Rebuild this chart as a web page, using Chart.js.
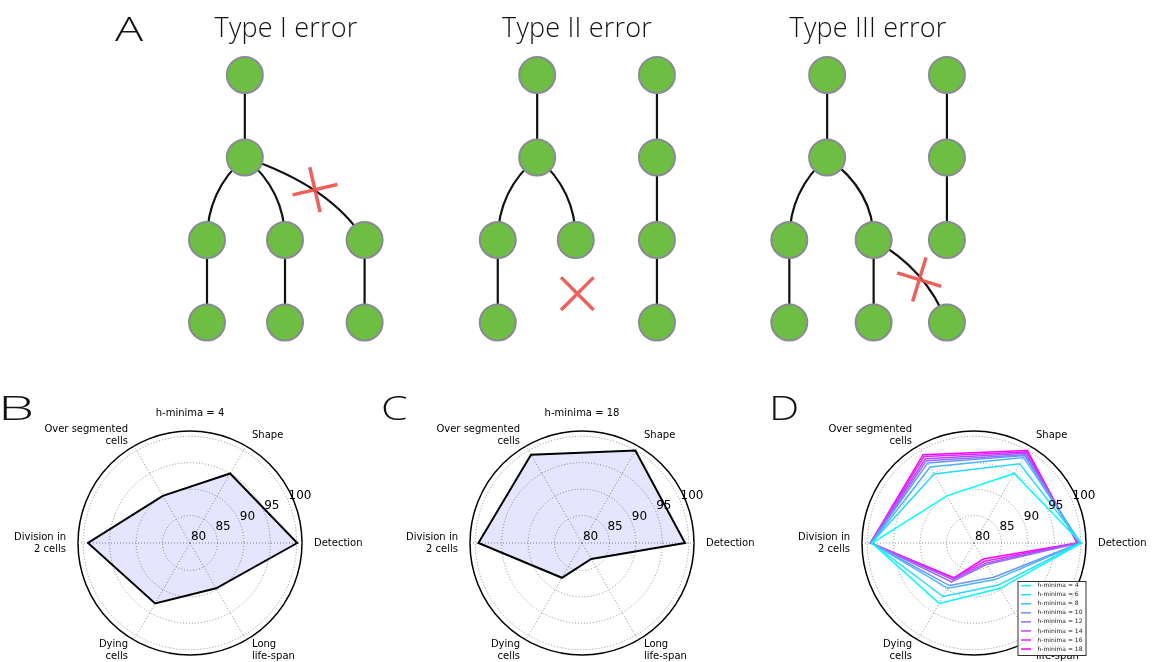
<!DOCTYPE html>
<html>
<head>
<meta charset="utf-8">
<script src="https://cdn.jsdelivr.net/npm/chart.js@4.4.1/dist/chart.umd.min.js"></script>
<style>
  html, body { margin: 0; padding: 0; background: #fff; }
  #wrap { position: relative; width: 1154px; height: 662px; overflow: hidden; }
  canvas { position: absolute; }
  .big { position: absolute; font-family: "Open Sans", Roboto, sans-serif; font-weight: 300; color: #111; line-height: 1; white-space: nowrap; }
  .ttl { transform: translateX(-50%); font-size: 27px; letter-spacing: 0.2px; }
  .let { font-size: 33px; transform-origin: 0 0; }
</style>
</head>
<body>
<div id="wrap">
  <canvas id="trees" width="1154" height="360" style="left:0;top:0"></canvas>
  <canvas id="radarB" width="385" height="272" style="left:0;top:390px"></canvas>
  <canvas id="radarC" width="385" height="272" style="left:385px;top:390px"></canvas>
  <canvas id="radarD" width="384" height="272" style="left:770px;top:390px"></canvas>
  <div class="big let" style="left:115px;top:12px;transform:scaleX(1.42)">A</div>
  <div class="big ttl" style="left:286px;top:13px">Type I error</div>
  <div class="big ttl" style="left:577px;top:13px">Type II error</div>
  <div class="big ttl" style="left:868px;top:13px">Type III error</div>
  <div class="big let" style="left:-2px;top:391px;transform:scaleX(1.75)">B</div>
  <div class="big let" style="left:381px;top:391px;transform:scaleX(1.3)">C</div>
  <div class="big let" style="left:769px;top:391px;transform:scaleX(1.3)">D</div>
</div>
<script>
// Panel A: lineage trees (column, generation) for the three error types
const nodeCol = [0.48, 0.48, 0, 0.99, 2.0, 0, 0.99, 2.0,
                 4.19, 4.19, 3.69, 4.68, 3.69, 5.71, 5.71, 5.71, 5.71,
                 7.87, 7.87, 7.39, 8.46, 7.39, 8.46, 9.39, 9.39, 9.39, 9.39];
const nodeGen = [0, 1, 2, 2, 2, 3, 3, 3,
                 0, 1, 2, 2, 3, 0, 1, 2, 3,
                 0, 1, 2, 2, 3, 3, 0, 1, 2, 3];
const treeEdges = [[0, 1], [1, 2], [1, 3], [1, 4], [2, 5], [3, 6], [4, 7],
                   [8, 9], [9, 10], [9, 11], [10, 12], [13, 14], [14, 15], [15, 16],
                   [17, 18], [18, 19], [18, 20], [19, 21], [20, 22], [20, 26], [23, 24], [24, 25]];
const errorCol = [1.37, 4.70, 9.04];
const errorGen = [1.39, 2.65, 2.48];

// Panels B-D: radar scores
const categories = [['Detection'], ['Long', 'life-span'], ['Dying', 'cells'],
                    ['Division in', '2 cells'], ['Over segmented', 'cells'], ['Shape']];
const radialTicks = [80, 85, 90, 95, 100];
const hMinima = [4, 6, 8, 10, 12, 14, 16, 18];
const scoresH4  = [100.1, 89.7, 93.0, 99.1, 90.1, 95.0];
const scoresH6  = [100.1, 89.0, 91.5, 99.2, 94.9, 97.1];
const scoresH8  = [100.0, 87.8, 89.7, 99.2, 96.4, 98.5];
const scoresH10 = [99.9, 87.3, 89.1, 99.3, 97.3, 98.9];
const scoresH12 = [99.7, 84.5, 88.3, 99.3, 97.8, 99.1];
const scoresH14 = [99.6, 84.2, 87.8, 99.4, 98.2, 99.4];
const scoresH16 = [99.4, 83.8, 87.5, 99.4, 98.7, 99.7];
const scoresH18 = [99.3, 83.3, 87.4, 99.4, 99.1, 100.0];
const allScores = [scoresH4, scoresH6, scoresH8, scoresH10, scoresH12, scoresH14, scoresH16, scoresH18];

const R_MIN = 79.8, R_MAX = 101;

// edges under the nodes, bent like the hand-drawn ones
const treeEdgesPlugin = {
  id: 'treeEdges',
  beforeDatasetsDraw(chart) {
    const { ctx, scales: { x, y } } = chart;
    const colW = x.getPixelForValue(1) - x.getPixelForValue(0);
    ctx.save();
    ctx.strokeStyle = '#111';
    ctx.lineWidth = 2.2;
    treeEdges.forEach(([a, b]) => {
      const px = x.getPixelForValue(nodeCol[a]), py = y.getPixelForValue(nodeGen[a]);
      const cx = x.getPixelForValue(nodeCol[b]), cy = y.getPixelForValue(nodeGen[b]);
      const dx = cx - px, dy = cy - py;
      ctx.beginPath();
      ctx.moveTo(px, py);
      if (Math.abs(dx) < 1) ctx.lineTo(cx, cy);
      else if (Math.abs(dx) < 0.75 * colW) ctx.quadraticCurveTo(cx, py + 0.4 * dy, cx, cy);
      else ctx.quadraticCurveTo(px + 0.72 * dx, py + 0.35 * dy, cx, cy);
      ctx.stroke();
    });
    ctx.restore();
  }
};

new Chart(document.getElementById('trees'), {
  type: 'scatter',
  data: {
    datasets: [{
      data: errorCol.map((c, i) => ({ x: c, y: errorGen[i] })),
      pointStyle: ['cross', 'crossRot', 'cross'],
      rotation: [-13, 0, 17],
      pointRadius: 23,
      borderWidth: 3.5,
      borderColor: 'rgba(234,84,76,0.92)'
    }, {
      data: nodeCol.map((c, i) => ({ x: c, y: nodeGen[i] })),
      pointRadius: 18,
      borderWidth: 2,
      backgroundColor: '#6fbe44',
      borderColor: '#8a8a96'
    }]
  },
  options: {
    responsive: false,
    animation: false,
    events: [],
    layout: { autoPadding: false, padding: 0 },
    plugins: { legend: { display: false }, tooltip: { enabled: false } },
    scales: {
      x: { display: false, min: -2.627, max: 12.018 },
      y: { display: false, reverse: true, min: -0.909, max: 3.4545 }
    }
  },
  plugins: [treeEdgesPlugin]
});

// matplotlib-like labels, r ticks, title and legend for the polar panels
const radarText = {
  id: 'radarText',
  afterDraw(chart, args, o) {
    const s = chart.scales.r, ctx = chart.ctx;
    ctx.save();
    ctx.fillStyle = '#000';
    ctx.font = '10px "DejaVu Sans"';
    ctx.textBaseline = 'middle';
    const dist = s.getDistanceFromCenterForValue(R_MAX) + 12;
    chart.data.labels.forEach((lab, i) => {
      const p = s.getPointPosition(i, dist);
      const c = Math.cos(p.angle);
      ctx.textAlign = c > 0.01 ? 'left' : (c < -0.01 ? 'right' : 'center');
      lab.forEach((t, k) => ctx.fillText(t, p.x, p.y + (k - (lab.length - 1) / 2) * 12));
    });
    if (o.title) {
      ctx.textAlign = 'center';
      ctx.fillText(o.title, s.xCenter, s.yCenter - 130);
    }
    ctx.font = '12px "DejaVu Sans"';
    ctx.textAlign = 'left';
    ctx.textBaseline = 'bottom';
    const a = -22.5 * Math.PI / 180;
    radialTicks.forEach(v => {
      const d = s.getDistanceFromCenterForValue(v);
      ctx.fillText(String(v), s.xCenter + d * Math.cos(a), s.yCenter + d * Math.sin(a));
    });
    if (o.legend) {
      const area = chart.chartArea;
      const w = 68, h = 74, bx = area.right - w - 0.5, by = area.bottom - h;
      ctx.fillStyle = 'rgba(255,255,255,0.92)';
      ctx.fillRect(bx, by, w, h);
      ctx.strokeStyle = '#333';
      ctx.lineWidth = 1;
      ctx.strokeRect(bx + 0.5, by + 0.5, w, h);
      ctx.font = '6px "DejaVu Sans"';
      ctx.textBaseline = 'middle';
      chart.data.datasets.forEach((ds, i) => {
        const yy = by + 4.7 + i * 9.05;
        ctx.strokeStyle = ds.borderColor;
        ctx.lineWidth = 1.5;
        ctx.beginPath();
        ctx.moveTo(bx + 3.5, yy);
        ctx.lineTo(bx + 13.5, yy);
        ctx.stroke();
        ctx.fillStyle = '#222';
        ctx.fillText(ds.label, bx + 20, yy);
      });
    }
    ctx.restore();
  }
};

function radarChart(id, datasets, padding, title, legend) {
  return new Chart(document.getElementById(id), {
    type: 'radar',
    data: { labels: categories, datasets },
    options: {
      responsive: false,
      animation: false,
      events: [],
      layout: { padding },
      elements: { point: { radius: 0 }, line: { tension: 0 } },
      plugins: { legend: { display: false }, tooltip: { enabled: false }, radarText: { title, legend } },
      scales: {
        r: {
          min: R_MIN,
          max: R_MAX,
          startAngle: 90,
          afterBuildTicks: sc => { sc.ticks = radialTicks.concat([R_MAX]).map(v => ({ value: v })); },
          ticks: { display: false },
          pointLabels: { display: false },
          grid: {
            circular: true,
            color: c => (c.tick && c.tick.value === R_MAX ? '#000' : '#8c8c8c'),
            lineWidth: c => (c.tick && c.tick.value === R_MAX ? 1.5 : 1)
          },
          border: { dash: c => (c.tick && c.tick.value === R_MAX ? [] : [1, 2]) },
          angleLines: { color: '#8c8c8c', lineWidth: 1, borderDash: [1, 2] }
        }
      }
    },
    plugins: [radarText]
  });
}

const filled = data => ({
  data, borderColor: '#000', borderWidth: 2, backgroundColor: 'rgba(0,0,255,0.1)', fill: true
});
const coolColor = t => `rgb(${Math.round(255 * t)},${Math.round(255 * (1 - t))},255)`;

radarChart('radarB', [filled(scoresH4)], { left: 78, right: 83, top: 41, bottom: 7 }, 'h-minima = 4', false);
radarChart('radarC', [filled(scoresH18)], { left: 85, right: 76, top: 41, bottom: 7 }, 'h-minima = 18', false);
radarChart('radarD', allScores.map((d, i) => ({
  label: 'h-minima = ' + hMinima[i],
  data: d,
  borderColor: coolColor(i / (allScores.length - 1)),
  borderWidth: 1.5,
  fill: false
})), { left: 92, right: 68, top: 41, bottom: 7 }, null, true);
</script>
</body>
</html>
